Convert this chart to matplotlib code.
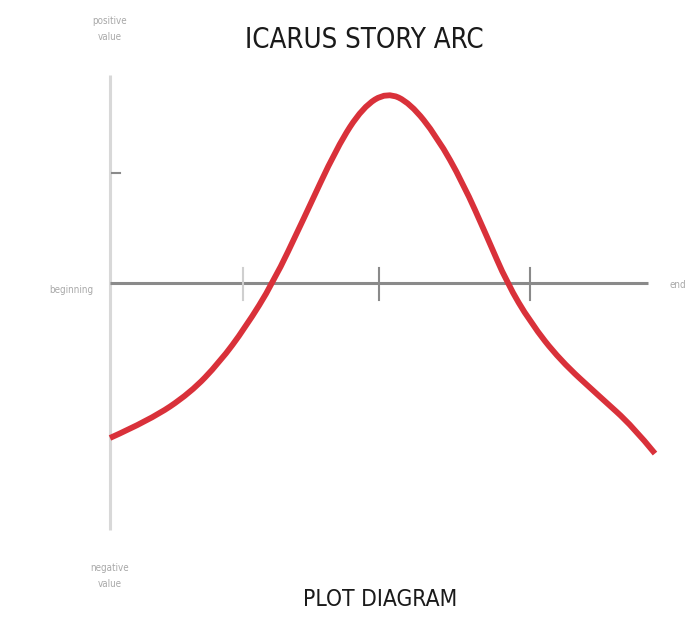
import matplotlib.pyplot as plt
import matplotlib.font_manager as fm
from matplotlib.path import Path
from matplotlib.patches import PathPatch

# story arc (x = story progress, y = value)
arc_x = [0.0, 0.74, 1.49, 2.04, 2.51, 3.03, 3.59, 4.22, 4.70, 5.15,
         5.58, 6.08, 6.56, 7.01, 7.38, 7.81, 8.36, 9.11, 9.72, 10.13]
arc_y = [-7.45, -6.59, -5.29, -3.80, -2.16, 0.0, 3.03, 6.54, 8.46, 9.18,
         8.65, 7.02, 4.81, 2.21, 0.0, -1.88, -3.70, -5.48, -6.90, -8.20]

x_ticks = [2.47, 5.0, 7.81]
y_ticks = [5.29]

title = "ICARUS STORY ARC"
subtitle = "PLOT DIAGRAM"

# look for a narrow face among the installed fonts
narrow = None
for f in fm.fontManager.ttflist:
    n = f.fname.lower()
    if ('condensed' in n or 'narrow' in n) and not any(k in n for k in ('bold', 'italic', 'oblique', 'light', 'thin', 'semi', 'extra', 'medium', 'black')):
        narrow = f.fname
        break

fig = plt.figure(figsize=(6.88, 6.23), dpi=100)
ax = fig.add_axes([0, 0, 1, 1])
ax.set_xlim(-110 / 53.8, 578 / 53.8)
ax.set_ylim((283 - 623) / 20.8, 283 / 20.8)
ax.axis('off')

# axes lines
ax.plot([0, 0], [10.0, -11.88], color='#d8d8d8', lw=2.2, solid_capstyle='butt', zorder=1)
ax.plot([0, 10.0], [0, 0], color='#8a8a8a', lw=2.2, solid_capstyle='butt', zorder=1)

tick_colors = ['#cfcfcf', '#8a8a8a', '#8a8a8a']
for tx, c in zip(x_ticks, tick_colors):
    ax.plot([tx, tx], [0.72, -0.82], color=c, lw=1.5, zorder=1)
for ty in y_ticks:
    ax.plot([0.04, 0.19], [ty, ty], color='#8a8a8a', lw=1.5, zorder=1)

# the arc, drawn as a smooth quadratic bezier chain through the read points
pts = list(zip(arc_x, arc_y))
verts = [pts[0]]
codes = [Path.MOVETO]
for i in range(1, len(pts) - 1):
    mid = ((pts[i][0] + pts[i + 1][0]) / 2, (pts[i][1] + pts[i + 1][1]) / 2)
    if i == len(pts) - 2:
        mid = pts[i + 1]
    verts += [pts[i], mid]
    codes += [Path.CURVE3, Path.CURVE3]
ax.add_patch(PathPatch(Path(verts, codes), facecolor='none', edgecolor='#d9313a',
                       lw=4.2, capstyle='butt', joinstyle='round', zorder=3))

# labels
def fp(size):
    if narrow:
        return fm.FontProperties(fname=narrow, size=size)
    return fm.FontProperties(family='DejaVu Sans', size=size)

lab = dict(color='#a8a8a8')
ax.text(0, 12.2, "positive\nvalue", ha='center', va='center', linespacing=1.8,
        fontproperties=fp(7), **lab)
ax.text(-0.3, -0.35, "beginning", ha='right', va='center', fontproperties=fp(7), **lab)
ax.text(10.4, -0.1, "end", ha='left', va='center', fontproperties=fp(7), **lab)
ax.text(0, -14.1, "negative\nvalue", ha='center', va='center', linespacing=1.8,
        fontproperties=fp(7), **lab)

t1 = ax.text(4.73, 11.7, title, ha='center', va='center', fontproperties=fp(24),
             color='#1a1a1a')
t2 = ax.text(5.02, -15.2, subtitle, ha='center', va='center', fontproperties=fp(18),
             color='#1a1a1a')

# fit the two headings to the widths they take in the reference
r = fig.canvas.get_renderer()
for t, w in ((t1, 240), (t2, 155)):
    cur = t.get_window_extent(r).width
    t.set_fontsize(t.get_fontsize() * w / cur)

fig.savefig('out.png', dpi=100, facecolor='white')
